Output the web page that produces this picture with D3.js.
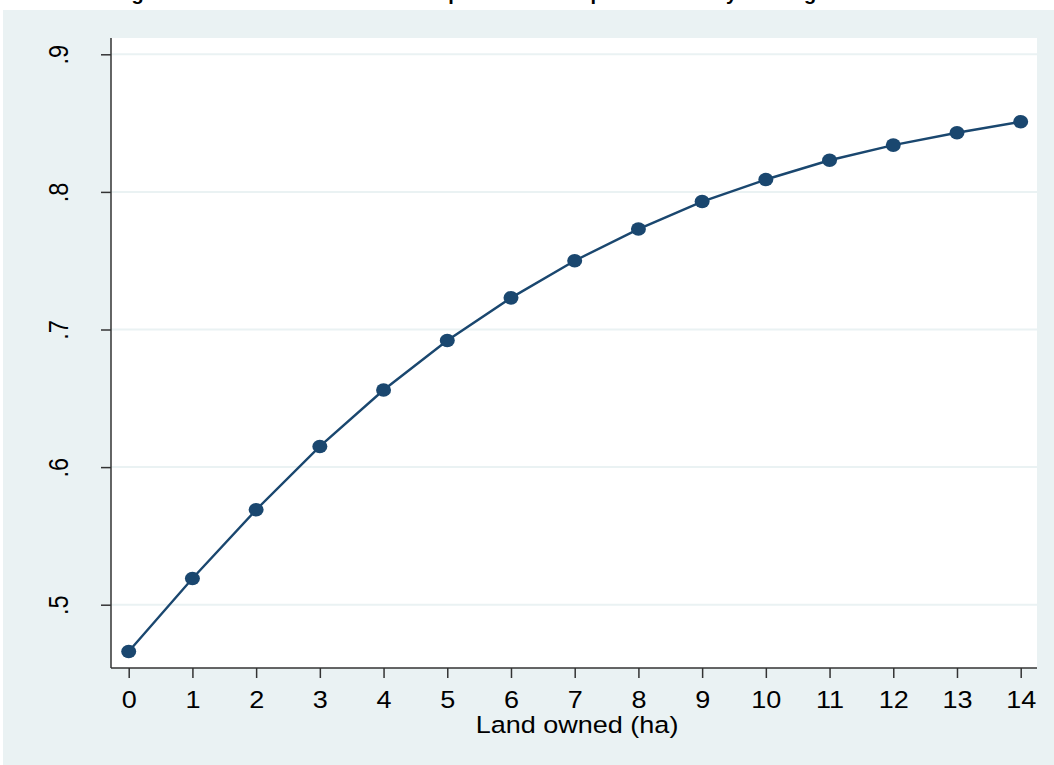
<!DOCTYPE html>
<html>
<head>
<meta charset="utf-8">
<script src="https://cdn.jsdelivr.net/npm/d3@7"></script>
<style>
  body { margin: 0; background: #fff; }
  svg { display: block; font-family: Arial, "Liberation Sans", sans-serif; }
</style>
</head>
<body>
<svg id="chart"></svg>
<script>
// data
const landOwned = [0, 1, 2, 3, 4, 5, 6, 7, 8, 9, 10, 11, 12, 13, 14]
const probability = [0.466, 0.519, 0.569, 0.615, 0.656, 0.692, 0.723, 0.750,
                     0.773, 0.793, 0.809, 0.823, 0.834, 0.843, 0.851]
const yTicks = [0.5, 0.6, 0.7, 0.8, 0.9]
const xTicks = landOwned
const chartTitle = "Marginal effect of land owned on the purchase of improved seed by farming households"
const xTitle = "Land owned (ha)"

const width = 1054, height = 765
const plot = { left: 111, right: 1037, top: 38, bottom: 668 }
const navy = "#1a476f", panel = "#eaf2f3", axisColor = "#333"
const sx = 1.15 // text in the picture is stretched a little sideways

const svg = d3.select("#chart").attr("width", width).attr("height", height)

// outer graph region + white plot region
svg.append("rect").attr("x", 3).attr("y", 10).attr("width", width - 3).attr("height", height - 10).attr("fill", panel)
svg.append("rect").attr("x", plot.left).attr("y", plot.top)
  .attr("width", plot.right - plot.left).attr("height", plot.bottom - plot.top).attr("fill", "#fff")

// title (cut off at the top in the original)
svg.append("text").attr("x", 96).attr("y", 0)
  .style("font-weight", "bold").style("font-size", "20px").text(chartTitle)

const x = d3.scaleLinear().domain([0, 14]).range([128.7, 1020.7])
const y = d3.scaleLinear().domain([0.5, 0.9]).range([604.7, 54.3])

// gridlines
svg.append("g").selectAll("line").data(yTicks).enter().append("line")
  .attr("x1", plot.left).attr("x2", plot.right)
  .attr("y1", d => y(d)).attr("y2", d => y(d))
  .attr("stroke", panel).attr("stroke-width", 2)

// y axis
const yAxis = svg.append("g").attr("transform", "translate(" + plot.left + ",0)")
  .call(d3.axisLeft(y).tickValues(yTicks).tickSize(10).tickFormat(d => d3.format(".1f")(d).replace(/^0/, "")))
yAxis.select(".domain").remove()
yAxis.selectAll(".tick line").attr("stroke", axisColor).attr("stroke-width", 1.5)
yAxis.selectAll(".tick text").remove()
yAxis.selectAll(".tick").append("text")
  .attr("transform", "translate(" + (68 - plot.left) + ",0) scale(" + sx + ",1) rotate(-90)")
  .attr("text-anchor", "middle").attr("fill", "#000")
  .style("font-size", "23.5px")
  .text(d => d3.format(".1f")(d).replace(/^0/, ""))

// x axis
const xAxis = svg.append("g").attr("transform", "translate(0," + plot.bottom + ")")
  .call(d3.axisBottom(x).tickValues(xTicks).tickSize(10).tickFormat(d3.format("d")))
xAxis.select(".domain").remove()
xAxis.selectAll(".tick line").attr("stroke", axisColor).attr("stroke-width", 1.5)
xAxis.selectAll(".tick text").remove()
xAxis.selectAll(".tick").append("text")
  .attr("transform", "translate(0," + (708 - plot.bottom) + ") scale(" + sx + ",1)")
  .attr("text-anchor", "middle").attr("fill", "#000")
  .style("font-size", "23.5px")
  .text(d => d)

// axis lines
svg.append("line").attr("x1", plot.left).attr("x2", plot.left).attr("y1", plot.top).attr("y2", plot.bottom)
  .attr("stroke", axisColor).attr("stroke-width", 1.5)
svg.append("line").attr("x1", plot.left).attr("x2", plot.right).attr("y1", plot.bottom).attr("y2", plot.bottom)
  .attr("stroke", axisColor).attr("stroke-width", 1.5)

// x title
svg.append("text")
  .attr("transform", "translate(577,733) scale(" + sx + ",1)")
  .attr("text-anchor", "middle").style("font-size", "23.5px").text(xTitle)

// line + markers
const points = landOwned.map((d, i) => [d, probability[i]])
svg.append("path").datum(points)
  .attr("d", d3.line().x(d => x(d[0])).y(d => y(d[1])))
  .attr("fill", "none").attr("stroke", navy).attr("stroke-width", 2.4)

svg.selectAll(".pt").data(points).enter().append("ellipse")
  .attr("class", "pt")
  .attr("cx", d => x(d[0])).attr("cy", d => y(d[1]))
  .attr("rx", 7.5).attr("ry", 6.8)
  .attr("fill", navy)
</script>
</body>
</html>
